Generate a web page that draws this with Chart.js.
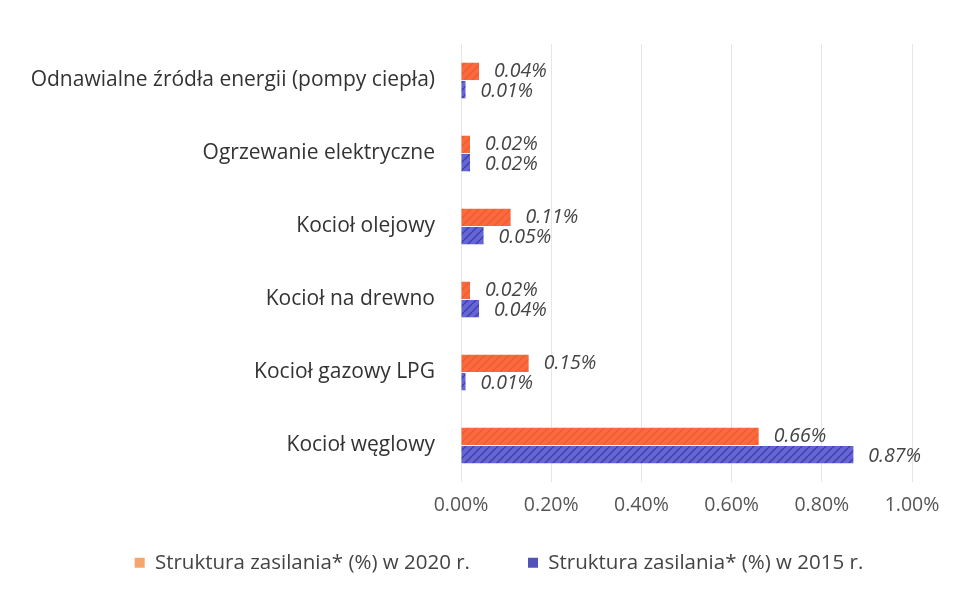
<!DOCTYPE html>
<html>
<head>
<meta charset="utf-8">
<script src="https://cdn.jsdelivr.net/npm/chart.js@4/dist/chart.umd.min.js"></script>
<style>
html,body{margin:0;padding:0;background:#fff;}
#wrap{width:962px;height:589px;position:relative;}
</style>
</head>
<body>
<div id="wrap"><canvas id="c" width="962" height="589"></canvas></div>
<script>
const categories = [
  "Odnawialne źródła energii (pompy ciepła)",
  "Ogrzewanie elektryczne",
  "Kocioł olejowy",
  "Kocioł na drewno",
  "Kocioł gazowy LPG",
  "Kocioł węglowy"
];
const series2020 = [0.04, 0.02, 0.11, 0.02, 0.15, 0.66];
const series2015 = [0.01, 0.02, 0.05, 0.04, 0.01, 0.87];
const label2020 = "Struktura zasilania* (%) w 2020 r.";
const label2015 = "Struktura zasilania* (%) w 2015 r.";
const xTicks = [0, 0.2, 0.4, 0.6, 0.8, 1.0];

function stripes(base, line, w) {
  const c = document.createElement('canvas');
  c.width = 8; c.height = 8;
  const g = c.getContext('2d');
  g.fillStyle = base; g.fillRect(0, 0, 8, 8);
  g.strokeStyle = line; g.lineWidth = w;
  g.beginPath();
  for (let k = -8; k <= 16; k += 8) { g.moveTo(k, 8); g.lineTo(k + 8, 0); }
  g.stroke();
  return g.createPattern(c, 'repeat');
}
const orangeFill = stripes('#fb6a3c', '#ee5c32', 1.5);
const blueFill = stripes('#6565d8', '#4040aa', 1.5);

const FONT = '"Open Sans", Lato, sans-serif';

const valueLabels = {
  id: 'valueLabels',
  afterDatasetsDraw(chart) {
    const ctx = chart.ctx;
    ctx.save();
    ctx.font = 'italic 19.5px ' + FONT;
    ctx.fillStyle = '#444';
    ctx.textAlign = 'left';
    ctx.textBaseline = 'middle';
    chart.data.datasets.forEach((ds, di) => {
      const meta = chart.getDatasetMeta(di);
      meta.data.forEach((el, i) => {
        ctx.fillText(ds.data[i].toFixed(2) + '%', el.x + 15, el.y + (di === 1 ? 2 : 0));
      });
    });
    ctx.restore();
  }
};

const layoutTweak = {
  id: 'layoutTweak',
  afterUpdate(chart) {
    const lg = chart.legend;
    if (lg) { lg.left += 38; lg.right += 38; }
    const xs = chart.scales.x;
    if (xs) { xs.bottom += 45; xs.height += 45; }
  }
};

new Chart(document.getElementById('c'), {
  type: 'bar',
  data: {
    labels: categories,
    datasets: [
      { label: label2020, data: series2020, backgroundColor: orangeFill, legendColor: '#f6a66c',
        categoryPercentage: 0.5, barPercentage: 0.95, borderWidth: 0 },
      { label: label2015, data: series2015, backgroundColor: blueFill, legendColor: '#5252bb',
        categoryPercentage: 0.5, barPercentage: 0.95, borderWidth: 0 }
    ]
  },
  options: {
    indexAxis: 'y',
    responsive: false,
    animation: false,
    layout: { padding: { left: 10, right: 50, top: 44, bottom: 6 } },
    scales: {
      x: {
        min: 0, max: 1.0,
        afterBuildTicks(s) { s.ticks = xTicks.map(v => ({ value: v })); },
        afterFit(s) { s.height = 12.5; },
        grid: { color: '#e6e6e6', drawTicks: false, lineWidth: 1 },
        border: { display: false },
        ticks: {
          padding: 12,
          color: '#555',
          font: { family: FONT, size: 19.5 },
          callback: v => v.toFixed(2) + '%'
        }
      },
      y: {
        afterFit(s) { s.width = 461 - 10; },
        grid: { display: false, drawTicks: false },
        border: { display: false },
        ticks: {
          padding: 26,
          color: '#333',
          font: { family: FONT, size: 21 }
        }
      }
    },
    plugins: {
      tooltip: { enabled: false },
      legend: {
        position: 'bottom',
        labels: {
          color: '#444',
          font: { family: FONT, size: 20.5 },
          boxWidth: 10, boxHeight: 10,
          padding: 58,
          generateLabels(chart) {
            return chart.data.datasets.map((ds, i) => ({
              text: ds.label, fillStyle: ds.legendColor, strokeStyle: ds.legendColor,
              lineWidth: 0, datasetIndex: i, fontColor: '#444'
            }));
          }
        }
      }
    }
  },
  plugins: [valueLabels, layoutTweak]
});
</script>
</body>
</html>
